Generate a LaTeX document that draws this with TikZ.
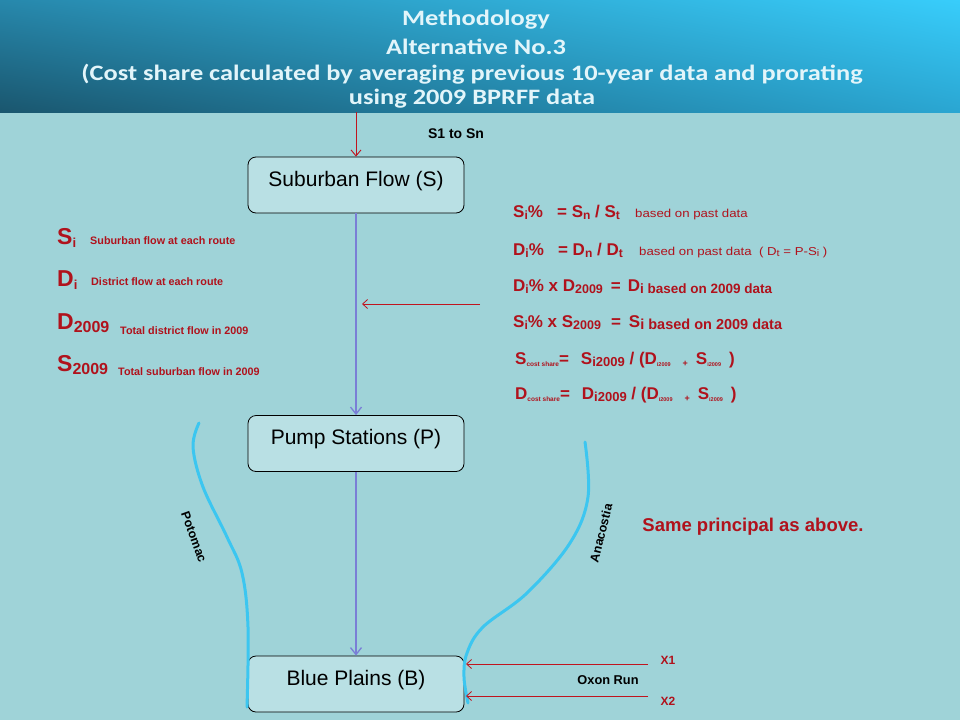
\documentclass[tikz,border=0pt]{standalone}
\usepackage{fontspec}
\setmainfont{Liberation Sans}
\newfontfamily\titlefont[FakeStretch=1.2]{Carlito}
\newfontfamily\notefont[FakeStretch=1.15]{Liberation Sans}
\usetikzlibrary{arrows.meta,shadings}
\definecolor{bgbody}{HTML}{9FD3D8}
\definecolor{boxfill}{HTML}{B9E0E4}
\definecolor{redtxt}{HTML}{B0121C}
\definecolor{redline}{HTML}{C0141E}
\definecolor{flowblue}{HTML}{7A7ED6}
\definecolor{river}{HTML}{3CC6F0}
\definecolor{hdUL}{HTML}{2788AC}
\definecolor{hdUR}{HTML}{38CDFB}
\definecolor{hdLL}{HTML}{1A566E}
\definecolor{hdLR}{HTML}{2AA6D2}
\definecolor{titlecol}{HTML}{E2F5FA}
\newcommand\lsb[2][9]{\raisebox{-0.3ex}{\fontsize{#1}{#1}\selectfont #2}}
\newcommand\fsz[1]{\fontsize{#1}{#1}\selectfont}
\tikzset{
  flowbox/.style={draw=black, line width=0.8pt, fill=boxfill, rounded corners=8pt,
    minimum width=216pt, minimum height=56pt, text height=15pt, text depth=13pt,
    font=\fsz{21}, inner sep=0pt},
  titletxt/.style={text=titlecol, font=\titlefont\bfseries\fsz{22}, inner sep=0pt},
  redarrow/.style={draw=redline, line width=0.9pt, -{Straight Barb[length=6pt,width=10pt]}},
  smallred/.style={draw=redline, line width=0.8pt, -{Straight Barb[length=5pt,width=9pt]}},
  bluearrow/.style={draw=flowblue, line width=1.3pt, -{Straight Barb[length=7pt,width=11pt]}},
  riverline/.style={draw=river, line width=3pt, line cap=round},
  eqn/.style={text=redtxt, font=\bfseries\fsz{17}, anchor=base west, inner sep=0pt},
  eqnote/.style={text=redtxt, font=\notefont\fsz{11.5}, anchor=base west, inner sep=0pt},
  legbig/.style={text=redtxt, font=\bfseries\fsz{23}, anchor=base west, inner sep=0pt},
  legsmall/.style={text=redtxt, font=\bfseries\fsz{10.8}, anchor=base west, inner sep=0pt},
  blacklbl/.style={text=black, font=\bfseries\fsz{12.5}, inner sep=0pt},
}
\begin{document}
\begin{tikzpicture}[x=1pt,y=-1pt]
\useasboundingbox (0,0) rectangle (960,720);
\fill[bgbody] (0,0) rectangle (960,720);
\shade[upper left=hdUL, upper right=hdUR, lower left=hdLL, lower right=hdLR] (0,0) rectangle (960,112);

% title
\node[titletxt] (t1) at (476,20) {Methodology};
\node[titletxt] (t2) at (476,47) {Alternative No.3};
\node[titletxt] (t3) at (472,74) {(Cost share calculated by averaging previous 10-year data and prorating};
\node[titletxt] (t4) at (472,99) {using 2009 BPRFF data};

% boxes
\node[flowbox] (sub) at (356,185) {Suburban Flow (S)};
\node[flowbox] (pump) at (356,443.5) {Pump Stations (P)};
\node[flowbox] (blue) at (356,684) {Blue Plains (B)};

% connectors
\coordinate (hdbot) at (356,112);
\draw[redarrow] (hdbot) -- (sub.north);
\node[blacklbl, font=\bfseries\fsz{14}] (s1sn) at (456,134) {S1 to Sn};
\draw[bluearrow] (sub.south) -- (pump.north);
\draw[bluearrow] (pump.south) -- (blue.north);
\coordinate (inS) at (480,304);
\coordinate (inE) at (362,304);
\draw[smallred] (inS) -- (inE);

% rivers
\draw[riverline] plot[smooth, tension=0.6] coordinates {(199,423) (193,447) (203,487) (227,537) (242,573) (248,627) (247,707)};
\draw[riverline] plot[smooth, tension=0.6] coordinates {(585,442) (588,497) (570,543) (527,593) (483,627) (467,653) (464,677) (468,703)};
\node[blacklbl, rotate=-70] (potomac) at (194,537) {Potomac};
\node[blacklbl, rotate=76] (anacostia) at (601,533) {Anacostia};

% Oxon Run
\coordinate (x1s) at (648,664);
\coordinate (x2s) at (648,696);
\draw[smallred] (x1s) -- (466,664);
\draw[smallred] (x2s) -- (466,696);
\node[text=redtxt, font=\bfseries\fsz{12}] (x1) at (668,660) {X1};
\node[text=redtxt, font=\bfseries\fsz{12}] (x2) at (668,701) {X2};
\node[blacklbl, font=\bfseries\fsz{12.8}] (oxon) at (608,680) {Oxon Run};

\node[text=redtxt, font=\bfseries\fsz{18.5}] (same) at (753,527) {Same principal as above.};

% legend
\node[legbig] (lS) at (57,244) {S\lsb[13]{i}};
\node[legsmall] (lSt) at (90,244) {Suburban flow at each route};
\node[legbig] (lD) at (57,286) {D\lsb[13]{i}};
\node[legsmall] (lDt) at (91,285) {District flow at each route};
\node[legbig] (lD9) at (57,329) {D\lsb[16]{2009}};
\node[legsmall] (lD9t) at (120,334) {Total district flow in 2009};
\node[legbig] (lS9) at (57,371) {S\lsb[16]{2009}};
\node[legsmall] (lS9t) at (118,375) {Total suburban flow in 2009};

% equations
\node[eqn] (e1) at (513,217) {S\lsb[12]{i}\%\ \ \ = S\lsb[12]{n}\ /\ S\lsb[12]{t}};
\node[eqnote] (e1n) at (635,217) {based on past data};
\node[eqn] (e2) at (513,255) {D\lsb[12]{i}\%\ \ \ = D\lsb[12]{n}\ /\ D\lsb[12]{t}};
\node[eqnote] (e2n) at (639,255) {based on past data \ (\ D\lsb[9.5]{t}\ =\ P-S\lsb[9.5]{i}\ )};
\node[eqn] (e3) at (513,291) {D\lsb[12]{i}\%\ x D\lsb[12.5]{2009}\hspace{8pt}=\hspace{7pt}D\lsb[13.5]{i based on 2009 data}};
\node[eqn] (e4) at (513,327) {S\lsb[12]{i}\%\ x S\lsb[12.5]{2009}\hspace{10pt}=\hspace{8pt}S\lsb[14.5]{i based on 2009 data}};
\node[eqn] (e5) at (515,364) {S\lsb[6.5]{cost share}=\hspace{12pt}S\lsb[13]{i2009}\ /\ (D\lsb[5.5]{i2009}\hspace{12pt}\lsb[9]{+}\hspace{8pt}S\lsb[5.5]{i2009}\hspace{8pt})};
\node[eqn] (e6) at (515,399) {D\lsb[6.5]{cost share}=\hspace{12pt}D\lsb[13]{i2009}\ /\ (D\lsb[5.5]{i2009}\hspace{12pt}\lsb[9]{+}\hspace{8pt}S\lsb[5.5]{i2009}\hspace{8pt})};
\end{tikzpicture}
\end{document}
